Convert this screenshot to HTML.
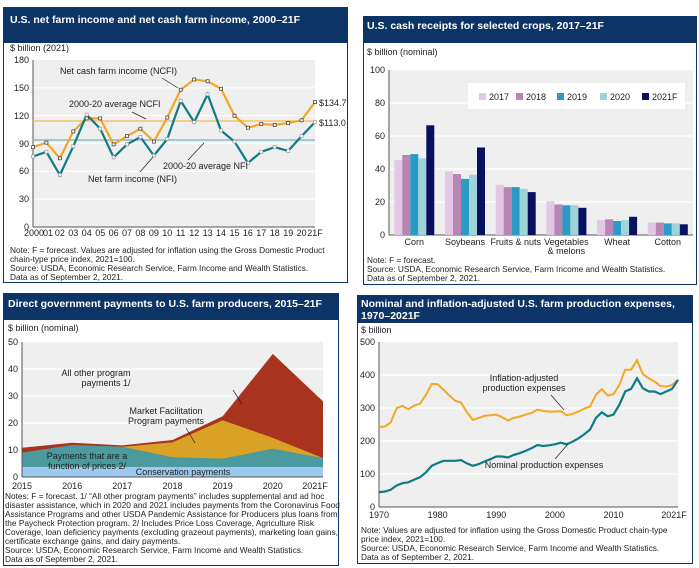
<!DOCTYPE html>
<html><head><meta charset="utf-8"><style>
body{margin:0;background:#fff;}
svg{display:block;font-family:"Liberation Sans",Arial,sans-serif;}
.t{font-size:10.5px;font-weight:bold;fill:#fff}
.a{font-size:9px;fill:#222}
.n{font-size:8.3px;fill:#222}
</style></head><body>
<svg width="699" height="568" viewBox="0 0 699 568">
<!-- Panel 1 -->
<rect x="3.5" y="7.5" width="344" height="275" fill="#fff" stroke="#0c3466"/>
<rect x="3" y="7" width="345" height="36" fill="#0c3466"/>
<text class="t" x="10" y="23">U.S. net farm income and net cash farm income, 2000–21F</text>
<text class="a" x="10" y="51">$ billion (2021)</text>
<rect x="33" y="60" width="282" height="167" fill="#efefef"/>
<g stroke="#fff" stroke-width="1.2"><line x1="33" x2="315" y1="199.2" y2="199.2"/><line x1="33" x2="315" y1="171.3" y2="171.3"/><line x1="33" x2="315" y1="143.5" y2="143.5"/><line x1="33" x2="315" y1="115.7" y2="115.7"/><line x1="33" x2="315" y1="87.8" y2="87.8"/></g>
<line x1="33" y1="60" x2="33" y2="227" stroke="#555"/><line x1="33" y1="227" x2="315" y2="227" stroke="#555"/>
<g class="a" text-anchor="end"><text x="29" y="230">0</text><text x="29" y="202">30</text><text x="29" y="174">60</text><text x="29" y="147">90</text><text x="29" y="119">120</text><text x="29" y="91">150</text><text x="29" y="63">180</text></g>
<g class="a" text-anchor="middle" font-size="8"><text x="34" y="236">2000</text><text x="48" y="236">01</text><text x="59.9" y="236">02</text><text x="73.3" y="236">03</text><text x="86.7" y="236">04</text><text x="100.2" y="236">05</text><text x="113.6" y="236">06</text><text x="127" y="236">07</text><text x="140.4" y="236">08</text><text x="153.9" y="236">09</text><text x="167.3" y="236">10</text><text x="180.7" y="236">11</text><text x="194.2" y="236">12</text><text x="207.6" y="236">13</text><text x="221" y="236">14</text><text x="234.5" y="236">15</text><text x="247.9" y="236">16</text><text x="261.3" y="236">17</text><text x="274.7" y="236">18</text><text x="288.2" y="236">19</text><text x="301.6" y="236">20</text><text x="315" y="236">21F</text></g>
<line x1="33" x2="315" y1="121" y2="121" stroke="#f5b953" stroke-width="1.3"/>
<line x1="33" x2="315" y1="140" y2="140" stroke="#6fb3bd" stroke-width="1.3"/>
<polyline fill="none" stroke="#f5a623" stroke-width="2.2" points="33,147.2 46.4,142.6 59.9,158.3 73.3,131.4 86.7,118.4 100.2,118.4 113.6,144.4 127,136.1 140.4,128.7 153.9,141.6 167.3,117.5 180.7,89.7 194.2,79.5 207.6,81.3 221,88.8 234.5,115.7 247.9,127.7 261.3,124 274.7,124.9 288.2,123.1 301.6,120.3 315,102"/>
<polyline fill="none" stroke="#0f7b83" stroke-width="2.2" points="33,156.5 46.4,151.8 59.9,175 73.3,146.3 86.7,114.7 100.2,128.7 113.6,157.4 127,144.4 140.4,137 153.9,155.6 167.3,138.9 180.7,100.8 194.2,122.2 207.6,94.3 221,130.5 234.5,141.6 247.9,163 261.3,151.8 274.7,147.2 288.2,150.9 301.6,136.1 315,122.2"/>
<g fill="#fff" stroke="#333" stroke-width="0.7">
<rect x="31.5" y="145.7" width="3" height="3"/><rect x="44.9" y="141.1" width="3" height="3"/><rect x="58.4" y="156.8" width="3" height="3"/><rect x="71.8" y="129.9" width="3" height="3"/><rect x="85.2" y="116.9" width="3" height="3"/><rect x="98.7" y="116.9" width="3" height="3"/><rect x="112.1" y="142.9" width="3" height="3"/><rect x="125.5" y="134.6" width="3" height="3"/><rect x="138.9" y="127.2" width="3" height="3"/><rect x="152.4" y="140.1" width="3" height="3"/><rect x="165.8" y="116" width="3" height="3"/><rect x="179.2" y="88.2" width="3" height="3"/><rect x="192.7" y="78" width="3" height="3"/><rect x="206.1" y="79.8" width="3" height="3"/><rect x="219.5" y="87.3" width="3" height="3"/><rect x="233" y="114.2" width="3" height="3"/><rect x="246.4" y="126.2" width="3" height="3"/><rect x="259.8" y="122.5" width="3" height="3"/><rect x="273.2" y="123.4" width="3" height="3"/><rect x="286.7" y="121.6" width="3" height="3"/><rect x="300.1" y="118.8" width="3" height="3"/><rect x="313.5" y="100.5" width="3" height="3"/>
</g>
<g fill="#fff" stroke="#999" stroke-width="0.7">
<rect x="31.5" y="155" width="3" height="3"/><rect x="44.9" y="150.3" width="3" height="3"/><rect x="58.4" y="173.5" width="3" height="3"/><rect x="71.8" y="144.8" width="3" height="3"/><rect x="85.2" y="113.2" width="3" height="3"/><rect x="98.7" y="127.2" width="3" height="3"/><rect x="112.1" y="155.9" width="3" height="3"/><rect x="125.5" y="142.9" width="3" height="3"/><rect x="138.9" y="135.5" width="3" height="3"/><rect x="152.4" y="154.1" width="3" height="3"/><rect x="165.8" y="137.4" width="3" height="3"/><rect x="179.2" y="99.3" width="3" height="3"/><rect x="192.7" y="120.7" width="3" height="3"/><rect x="206.1" y="92.8" width="3" height="3"/><rect x="219.5" y="129" width="3" height="3"/><rect x="233" y="140.1" width="3" height="3"/><rect x="246.4" y="161.5" width="3" height="3"/><rect x="259.8" y="150.3" width="3" height="3"/><rect x="273.2" y="145.7" width="3" height="3"/><rect x="286.7" y="149.4" width="3" height="3"/><rect x="300.1" y="134.6" width="3" height="3"/><rect x="313.5" y="120.7" width="3" height="3"/>
</g>
<g class="a"><text x="60" y="74">Net cash farm income (NCFI)</text><text x="69" y="107">2000-20 average NCFI</text><text x="163" y="169">2000-20 average NFI</text><text x="88" y="182">Net farm income (NFI)</text><text x="319" y="106">$134.7</text><text x="319" y="126">$113.0</text></g>
<g stroke="#222" stroke-width="0.7"><line x1="162" y1="78" x2="178" y2="88"/><line x1="132" y1="112" x2="146" y2="119"/><line x1="188" y1="160" x2="204" y2="143"/><line x1="140" y1="172" x2="153" y2="157"/></g>
<g class="n"><text x="10" y="253">Note: F = forecast. Values are adjusted for inflation using the Gross Domestic Product</text><text x="10" y="262">chain-type price index, 2021=100.</text><text x="10" y="271">Source: USDA, Economic Research Service, Farm Income and Wealth Statistics.</text><text x="10" y="280">Data as of September 2, 2021.</text></g>

<!-- Panel 2 -->
<rect x="363.5" y="16.5" width="333" height="268" fill="#fff" stroke="#0c3466"/>
<rect x="363" y="16" width="334" height="27" fill="#0c3466"/>
<text class="t" x="367" y="29">U.S. cash receipts for selected crops, 2017–21F</text>
<text class="a" x="367" y="55" font-size="8.5">$ billion (nominal)</text>
<rect x="389" y="70" width="304" height="165" fill="#efefef"/>
<g stroke="#fff" stroke-width="1.2"><line x1="389" x2="693" y1="202" y2="202"/><line x1="389" x2="693" y1="169" y2="169"/><line x1="389" x2="693" y1="136" y2="136"/><line x1="389" x2="693" y1="103" y2="103"/></g>
<line x1="389" y1="70" x2="389" y2="235" stroke="#555"/><line x1="389" y1="235" x2="693" y2="235" stroke="#555"/>
<g class="a" text-anchor="end"><text x="385" y="238">0</text><text x="385" y="205">20</text><text x="385" y="172">40</text><text x="385" y="139">60</text><text x="385" y="106">80</text><text x="385" y="73">100</text></g>
<rect x="468" y="83" width="217" height="26" fill="#fff"/>
<g class="a"><rect x="479" y="93" width="7" height="7" fill="#e3c8e6"/><text x="489" y="100">2017</text><rect x="516" y="93" width="7" height="7" fill="#b886b4"/><text x="526" y="100">2018</text><rect x="557" y="93" width="7" height="7" fill="#2a9bc4"/><text x="567" y="100">2019</text><rect x="600" y="93" width="7" height="7" fill="#9fd3da"/><text x="610" y="100">2020</text><rect x="642" y="93" width="7" height="7" fill="#0a1060"/><text x="652" y="100">2021F</text></g>
<g fill="#e3c8e6"><rect x="394.3" y="159.9" width="8" height="75.1"/><rect x="445" y="171.5" width="8" height="63.5"/><rect x="495.7" y="184.7" width="8" height="50.3"/><rect x="546.4" y="201.2" width="8" height="33.8"/><rect x="597.1" y="220.1" width="8" height="14.9"/><rect x="647.8" y="222.6" width="8" height="12.4"/></g>
<g fill="#b886b4"><rect x="402.3" y="155" width="8" height="80"/><rect x="453" y="174" width="8" height="61"/><rect x="503.7" y="187.1" width="8" height="47.9"/><rect x="554.4" y="204.5" width="8" height="30.5"/><rect x="605.1" y="219.3" width="8" height="15.7"/><rect x="655.8" y="222.6" width="8" height="12.4"/></g>
<g fill="#2a9bc4"><rect x="410.3" y="154.1" width="8" height="80.9"/><rect x="461" y="178.9" width="8" height="56.1"/><rect x="511.7" y="187.1" width="8" height="47.9"/><rect x="562.4" y="205.3" width="8" height="29.7"/><rect x="613.1" y="221" width="8" height="14"/><rect x="663.8" y="223.4" width="8" height="11.6"/></g>
<g fill="#9fd3da"><rect x="418.3" y="158.3" width="8" height="76.7"/><rect x="469" y="174.8" width="8" height="60.2"/><rect x="519.7" y="188.8" width="8" height="46.2"/><rect x="570.4" y="205.3" width="8" height="29.7"/><rect x="621.1" y="220.1" width="8" height="14.9"/><rect x="671.8" y="223.4" width="8" height="11.6"/></g>
<g fill="#0a1060"><rect x="426.3" y="125.3" width="8" height="109.7"/><rect x="477" y="147.5" width="8" height="87.5"/><rect x="527.7" y="192.1" width="8" height="42.9"/><rect x="578.4" y="207.8" width="8" height="27.2"/><rect x="629.1" y="216.8" width="8" height="18.2"/><rect x="679.8" y="224.3" width="8" height="10.7"/></g>
<g class="a" text-anchor="middle" font-size="8.5"><text x="414.3" y="245">Corn</text><text x="465" y="245">Soybeans</text><text x="515.7" y="245">Fruits &amp; nuts</text><text x="566.4" y="245">Vegetables</text><text x="566.4" y="254">&amp; melons</text><text x="617.1" y="245">Wheat</text><text x="667.8" y="245">Cotton</text></g>
<g class="n"><text x="367" y="263">Note: F = forecast.</text><text x="367" y="272">Source: USDA, Economic Research Service, Farm Income and Wealth Statistics.</text><text x="367" y="281">Data as of September 2, 2021.</text></g>

<!-- Panel 3 -->
<rect x="3.5" y="293.5" width="335" height="272" fill="#fff" stroke="#0c3466"/>
<rect x="3" y="293" width="336" height="27" fill="#0c3466"/>
<text class="t" x="8" y="307">Direct government payments to U.S. farm producers, 2015–21F</text>
<text class="a" x="8" y="331" font-size="8.5">$ billion (nominal)</text>
<rect x="22" y="342" width="301" height="135" fill="#efefef"/>
<g stroke="#fff" stroke-width="1.2"><line x1="22" x2="323" y1="450" y2="450"/><line x1="22" x2="323" y1="423" y2="423"/><line x1="22" x2="323" y1="396" y2="396"/><line x1="22" x2="323" y1="369" y2="369"/></g>
<polygon fill="#a8331e" points="22,447.8 72.2,442.7 122.3,445.4 172.5,440 222.7,416.3 272.8,353.9 323,401.4 323,477 22,477"/>
<polygon fill="#d9a126" points="22,452.7 72.2,445.1 122.3,446.8 172.5,442.4 222.7,420.3 272.8,437.9 323,458.1 323,477 22,477"/>
<polygon fill="#4a9a9e" points="22,452.7 72.2,445.1 122.3,446.8 172.5,457.3 222.7,458.6 272.8,448.7 323,458.1 323,477 22,477"/>
<rect x="22" y="467" width="301" height="10" fill="#9ec9ef"/>
<line x1="22" y1="342" x2="22" y2="477" stroke="#555"/><line x1="22" y1="477" x2="323" y2="477" stroke="#555"/>
<g class="a" text-anchor="end"><text x="18" y="480">0</text><text x="18" y="453">10</text><text x="18" y="426">20</text><text x="18" y="399">30</text><text x="18" y="372">40</text><text x="18" y="345">50</text></g>
<g class="a" text-anchor="middle"><text x="22" y="489">2015</text><text x="72.2" y="489">2016</text><text x="122.3" y="489">2017</text><text x="172.5" y="489">2018</text><text x="222.7" y="489">2019</text><text x="272.8" y="489">2020</text><text x="315" y="489">2021F</text></g>
<g class="a" text-anchor="middle" font-size="8.5"><text x="96" y="376">All other program</text><text x="96" y="386" dx="10">payments 1/</text><text x="166" y="414">Market Facilitation</text><text x="166" y="424">Program payments</text><text x="87" y="459">Payments that are a</text><text x="87" y="469">function of prices 2/</text><text x="183" y="475">Conservation payments</text></g>
<g stroke="#222" stroke-width="0.7"><line x1="233" y1="390" x2="242" y2="404"/><line x1="186" y1="428" x2="195" y2="443"/></g>
<g class="n"><text x="5" y="499">Notes: F = forecast. 1/ “All other program payments” includes supplemental and ad hoc</text><text x="5" y="508">disaster assistance, which in 2020 and 2021 includes payments from the Coronavirus Food</text><text x="5" y="517">Assistance Programs and other USDA Pandemic Assistance for Producers plus loans from</text><text x="5" y="526">the Paycheck Protection program. 2/ Includes Price Loss Coverage, Agriculture Risk</text><text x="5" y="535">Coverage, loan deficiency payments (excluding grazeout payments), marketing loan gains,</text><text x="5" y="544">certificate exchange gains, and dairy payments.</text><text x="5" y="553">Source: USDA, Economic Research Service, Farm Income and Wealth Statistics.</text><text x="5" y="562">Data as of September 2, 2021.</text></g>

<!-- Panel 4 -->
<rect x="357.5" y="295.5" width="335" height="268" fill="#fff" stroke="#0c3466"/>
<rect x="357" y="295" width="336" height="28" fill="#0c3466"/>
<text class="t" x="361" y="307" font-size="10">Nominal and inflation-adjusted U.S. farm production expenses,</text>
<text class="t" x="361" y="319" font-size="10">1970–2021F</text>
<text class="a" x="361" y="333" font-size="8.5" fill="#222">$ billion</text>
<rect x="379" y="342" width="299" height="165" fill="#efefef"/>
<g stroke="#fff" stroke-width="1.2"><line x1="379" x2="678" y1="474" y2="474"/><line x1="379" x2="678" y1="441" y2="441"/><line x1="379" x2="678" y1="408" y2="408"/><line x1="379" x2="678" y1="375" y2="375"/></g>
<line x1="379" y1="342" x2="379" y2="507" stroke="#555"/><line x1="379" y1="507" x2="678" y2="507" stroke="#555"/>
<g class="a" text-anchor="end"><text x="375" y="510">0</text><text x="375" y="477">100</text><text x="375" y="444">200</text><text x="375" y="411">300</text><text x="375" y="378">400</text><text x="375" y="345">500</text></g>
<g class="a" text-anchor="middle"><text x="379" y="518">1970</text><text x="437.6" y="518">1980</text><text x="496.3" y="518">1990</text><text x="554.9" y="518">2000</text><text x="613.5" y="518">2010</text><text x="674" y="518">2021F</text></g>
<polyline fill="none" stroke="#f5a623" stroke-width="2" points="379,427.1 384.9,426.5 390.7,422.5 396.6,408 402.5,406 408.3,409.3 414.2,405.4 420,403.7 425.9,394.8 431.8,383.9 437.6,384.2 443.5,389.9 449.4,395.5 455.2,400.7 461.1,402.7 466.9,412.3 472.8,419.9 478.7,417.9 484.5,415.9 490.4,415.3 496.3,414.6 502.1,417.2 508,420.5 513.8,417.9 519.7,416.6 525.6,414.6 531.4,413 537.3,409.7 543.2,411 549,411.6 554.9,411.6 560.8,411.3 566.6,415.3 572.5,413.9 578.3,411.6 584.2,408.7 590.1,406.4 595.9,394.8 601.8,389.2 607.7,395.5 613.5,394.1 619.4,384.9 625.2,369.7 631.1,369.7 637,360.2 642.8,374 648.7,378.3 654.6,381.6 660.4,385.9 666.3,386.6 672.1,384.9 678,379.9"/>
<polyline fill="none" stroke="#0f7b83" stroke-width="2.2" points="379,492.2 384.9,491.5 390.7,489.8 396.6,485.5 402.5,483.2 408.3,482.3 414.2,479.6 420,477.3 425.9,472.4 431.8,465.8 437.6,463.1 443.5,460.8 449.4,460.8 455.2,460.8 461.1,460.1 466.9,463.4 472.8,465.8 478.7,464.1 484.5,461.5 490.4,459.2 496.3,456.5 502.1,456.5 508,457.5 513.8,454.9 519.7,453.2 525.6,450.9 531.4,448.3 537.3,445 543.2,446 549,445.3 554.9,444.3 560.8,442.7 566.6,444.3 572.5,441.7 578.3,438.4 584.2,434.4 590.1,429.5 595.9,417.9 601.8,412.3 607.7,416.3 613.5,414.6 619.4,404.7 625.2,391.5 631.1,388.9 637,378.3 642.8,388.2 648.7,391.5 654.6,391.5 660.4,394.1 666.3,391.5 672.1,388.9 678,379.9"/>
<g class="a" text-anchor="middle" font-size="8.5"><text x="524" y="381">Inflation-adjusted</text><text x="524" y="391">production expenses</text><text x="544" y="468">Nominal production expenses</text></g>
<g stroke="#222" stroke-width="0.7"><line x1="551" y1="395" x2="564" y2="410"/><line x1="555" y1="459" x2="568" y2="444"/></g>
<g class="n"><text x="361" y="533">Note: Values are adjusted for inflation using the Gross Domestic Product chain-type</text><text x="361" y="542">price index, 2021=100.</text><text x="361" y="551">Source: USDA, Economic Research Service, Farm Income and Wealth Statistics.</text><text x="361" y="560">Data as of September 2, 2021.</text></g>
</svg>
</body></html>
